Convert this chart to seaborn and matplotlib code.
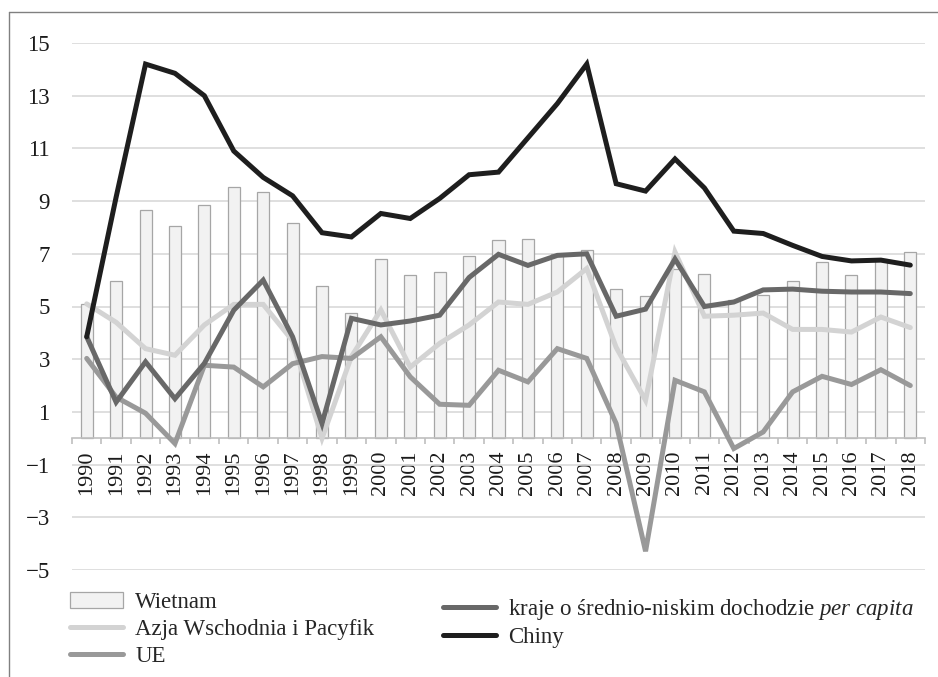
import numpy as np
import pandas as pd
import matplotlib
matplotlib.use("Agg")
import matplotlib.pyplot as plt
from matplotlib.lines import Line2D
from matplotlib.patches import Patch
from matplotlib.ticker import FixedLocator
import seaborn as sns

# ── dane ───────────────────────────────────────────────
years = list(range(1990, 2019))
wietnam = [5.10, 5.96, 8.65, 8.07, 8.84, 9.54, 9.34, 8.15, 5.76, 4.77,
           6.79, 6.19, 6.32, 6.90, 7.54, 7.55, 6.98, 7.13, 5.66, 5.40,
           6.42, 6.24, 5.25, 5.42, 5.98, 6.68, 6.21, 6.81, 7.08]
azja = [5.10, 4.40, 3.40, 3.15, 4.30, 5.08, 5.08, 3.70, 0.00, 3.10,
        4.87, 2.70, 3.60, 4.30, 5.17, 5.08, 5.55, 6.44, 3.45, 1.44,
        7.07, 4.63, 4.67, 4.75, 4.13, 4.13, 4.03, 4.60, 4.20]
ue = [3.03, 1.56, 0.95, -0.20, 2.77, 2.70, 1.95, 2.83, 3.10, 3.03,
      3.85, 2.33, 1.29, 1.25, 2.58, 2.14, 3.40, 3.03, 0.56, -4.29,
      2.20, 1.76, -0.39, 0.24, 1.76, 2.35, 2.04, 2.60, 2.00]
kraje = [3.85, 1.37, 2.90, 1.50, 2.84, 4.86, 6.00, 3.85, 0.56, 4.55,
         4.30, 4.45, 4.67, 6.10, 6.98, 6.56, 6.94, 7.00, 4.63, 4.90,
         6.80, 5.00, 5.17, 5.63, 5.66, 5.58, 5.55, 5.55, 5.49]
chiny = [3.85, 9.15, 14.20, 13.85, 13.00, 10.90, 9.90, 9.20, 7.80, 7.64,
         8.53, 8.34, 9.10, 10.00, 10.10, 11.40, 12.70, 14.20, 9.66, 9.38,
         10.60, 9.50, 7.86, 7.77, 7.32, 6.90, 6.73, 6.76, 6.57]

labels = ["Wietnam", "Azja Wschodnia i Pacyfik", "UE",
          "kraje o średnio-niskim dochodzie $\\mathit{per\\ capita}$", "Chiny"]
colors = ["#f2f2f2", "#d3d3d3", "#999999", "#686868", "#1e1e1e"]

# ── styl ───────────────────────────────────────────────
sns.set_theme(style="white")
plt.rcParams["font.family"] = ["Liberation Serif", "DejaVu Serif"]
plt.rcParams["mathtext.fontset"] = "custom"
plt.rcParams["mathtext.rm"] = "Liberation Serif"
plt.rcParams["mathtext.it"] = "Liberation Serif:italic"

W, H = 938, 677
fig = plt.figure(figsize=(W / 100, H / 100), dpi=100)
ax = fig.add_axes([72 / W, 1 - 570 / H, (925 - 72) / W, (570 - 43) / H])

# słupki – Wietnam
df = pd.DataFrame({"rok": [str(y) for y in years], "val": wietnam})
sns.barplot(data=df, x="rok", y="val", color=colors[0], saturation=1,
            edgecolor="#a6a6a6", linewidth=0.9, width=0.41, ax=ax, zorder=2)

# linie
x = np.arange(len(years))
for vals, col in zip([azja, ue, kraje, chiny], colors[1:]):
    sns.lineplot(x=x, y=vals, color=col, lw=3.6, ax=ax, zorder=3,
                 solid_joinstyle="miter", solid_capstyle="round")

# osie
ax.set_ylim(-5, 15)
ax.set_xlim(-0.5, len(years) - 0.5)
ax.set_yticks(range(-5, 16, 2))
ax.yaxis.grid(True, color="#d9d9d9", lw=1.2)
ax.set_axisbelow(True)
for s in ["left", "right", "top"]:
    ax.spines[s].set_visible(False)
ax.spines["bottom"].set_position(("data", 0))
ax.spines["bottom"].set_color("#bfbfbf")
ax.spines["bottom"].set_linewidth(1.2)

ax.set_xticks(x)
ax.set_xticklabels(years, rotation=90, fontsize=16)
ax.xaxis.set_minor_locator(FixedLocator(np.arange(-0.5, len(years), 1)))
ax.tick_params(axis="x", which="major", length=0, pad=9, labelcolor="#1a1a1a")
ax.tick_params(axis="x", which="minor", length=4, width=1.2, color="#bfbfbf",
               direction="out", bottom=True)
ax.tick_params(axis="y", length=0, pad=16, labelsize=16.5, labelcolor="#1a1a1a")
ax.set_xlabel("")
ax.set_ylabel("")

# legenda – dwie kolumny jak w Excelu
h1 = [Patch(facecolor=colors[0], edgecolor="#a6a6a6", lw=0.9),
      Line2D([], [], color=colors[1], lw=3.6, solid_capstyle="round"),
      Line2D([], [], color=colors[2], lw=3.6, solid_capstyle="round")]
h2 = [Line2D([], [], color=colors[3], lw=3.6, solid_capstyle="round"),
      Line2D([], [], color=colors[4], lw=3.6, solid_capstyle="round")]
leg_kw = dict(frameon=False, fontsize=16.5, borderpad=0, borderaxespad=0,
              handlelength=2.3, handletextpad=0.55,
              loc="upper left", bbox_transform=fig.transFigure)
fig.legend(h1, labels[:3], bbox_to_anchor=(70 / W, 1 - 592 / H),
           labelspacing=0.26, **leg_kw)
fig.legend(h2, labels[3:], bbox_to_anchor=(443 / W, 1 - 597 / H),
           labelspacing=0.2, **leg_kw)

# ramka (góra i lewa strona)
fig.add_artist(Line2D([9 / W, 1], [1 - 12 / H] * 2, transform=fig.transFigure,
                      color="#808080", lw=1))
fig.add_artist(Line2D([9 / W] * 2, [0, 1 - 12 / H], transform=fig.transFigure,
                      color="#808080", lw=1))

fig.savefig("out.png", dpi=100)
